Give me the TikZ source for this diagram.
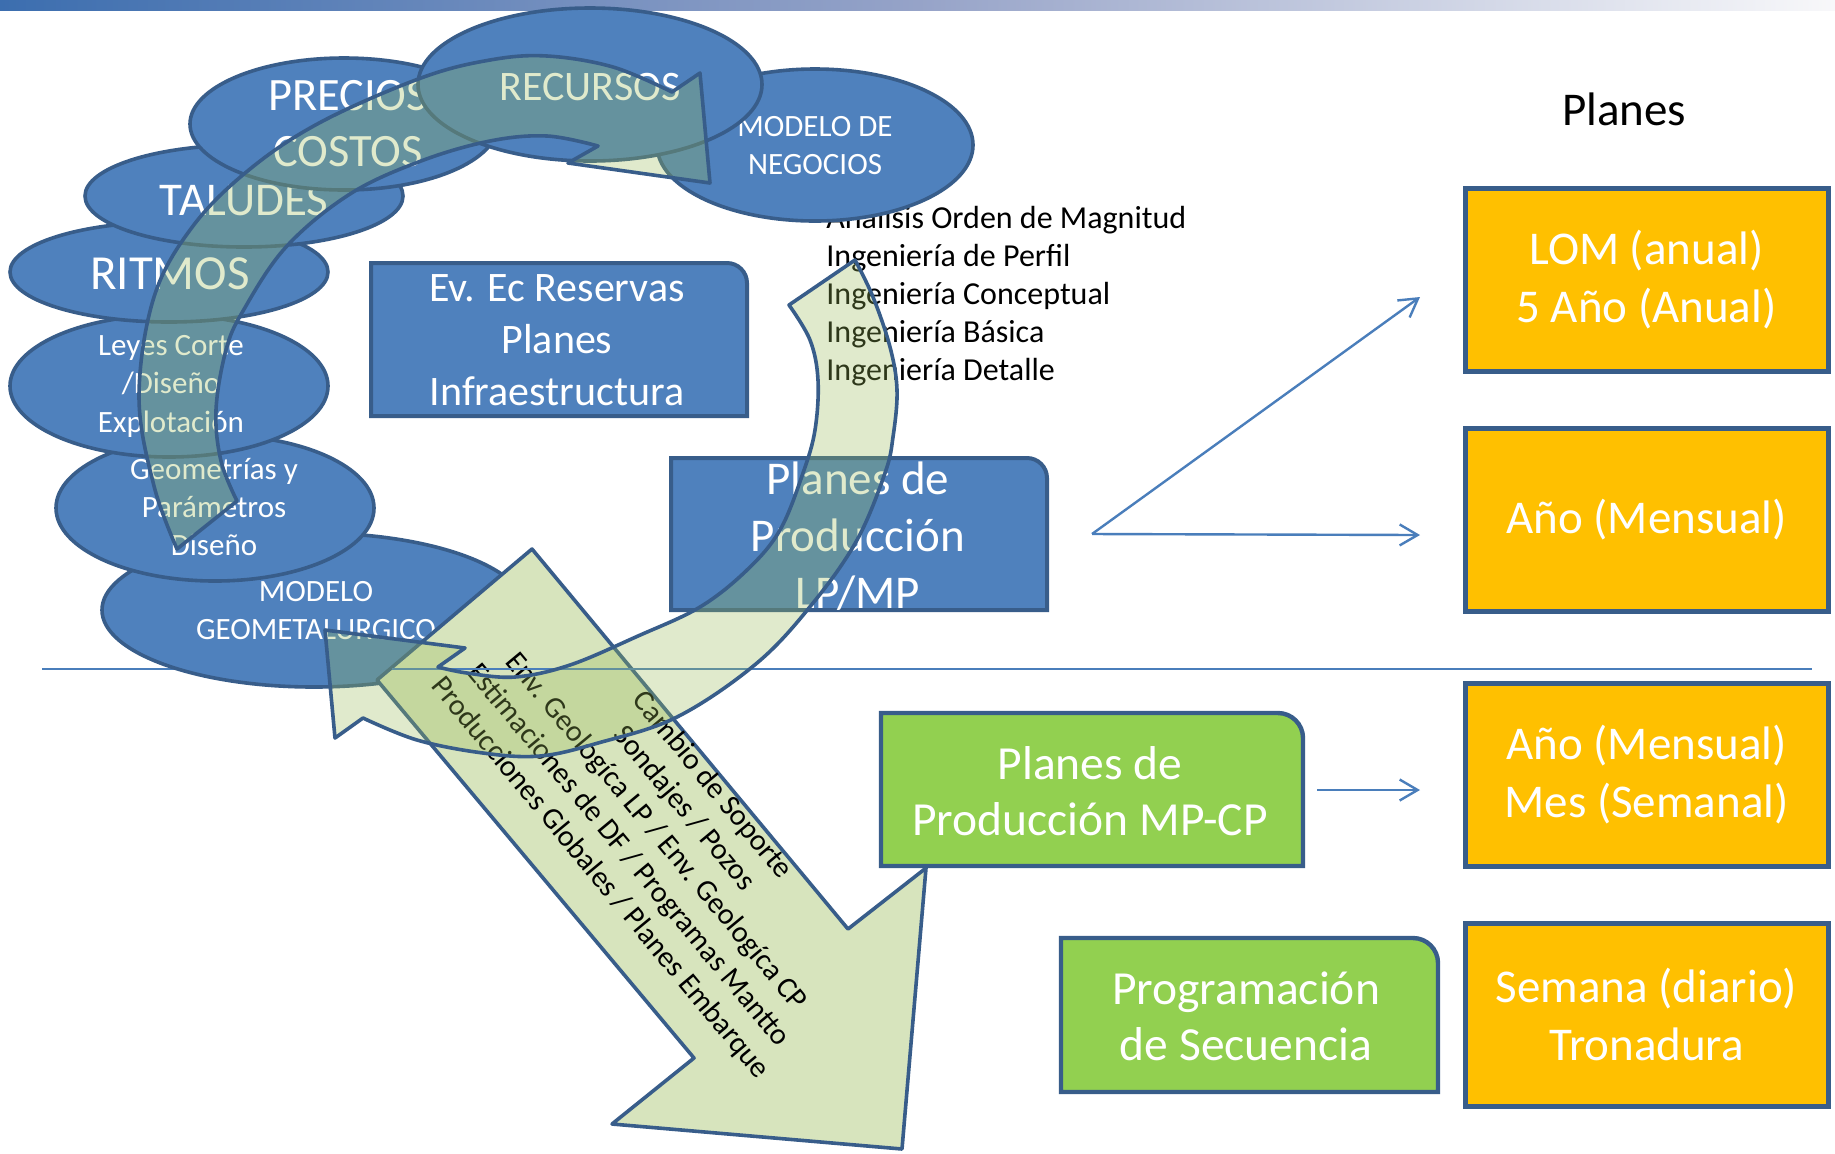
\documentclass[tikz,border=0pt]{standalone}
\usepackage{fontspec}
\setmainfont{Carlito}
\usetikzlibrary{shapes.geometric,arrows.meta}
\newcommand{\fsz}[2]{\fontsize{#1}{#2}\selectfont}
\newcommand{\onerbox}[6]{\draw[#6] (#1,#4) -- (#1,#2) -- ({#3-#5},#2) .. controls ({#3-0.45*#5},#2) and (#3,{#2+0.45*#5}) .. (#3,{#2+#5}) -- (#3,#4) -- cycle;}
\definecolor{bfill}{HTML}{4F81BD}
\definecolor{bdark}{HTML}{385D8A}
\definecolor{orng}{HTML}{FFC000}
\definecolor{gbox}{HTML}{92D050}
\definecolor{darrow}{HTML}{D7E4BD}
\definecolor{arcg}{HTML}{9BBB59}
\definecolor{lineblue}{HTML}{4A7EBB}
\definecolor{topL}{RGB}{60,110,175}
\definecolor{topM}{RGB}{150,163,200}
\definecolor{topR}{RGB}{248,248,250}
\begin{document}
\begin{tikzpicture}[x=0.5pt,y=-0.5pt,
  ell/.style={ellipse, draw=bdark, fill=bfill, line width=1.8pt, inner sep=0pt},
  etxt/.style={text=white, align=center, inner sep=0pt},
  bluebox/.style={draw=bdark, fill=bfill, line width=2pt},
  greenbox/.style={draw=bdark, fill=gbox, line width=2.2pt},
  obox/.style={rectangle, draw=bdark, fill=orng, line width=2.5pt, minimum width=181.5pt, minimum height=91.5pt, inner sep=0pt, text=white, align=center, font=\fsz{23.5}{29}},
  btxt/.style={text=white, align=center, inner sep=0pt},
  diag/.style={draw=bdark, fill=darrow, line width=1.8pt, line join=round},
  arcst/.style={fill=arcg, fill opacity=0.3, draw=bdark, line width=1.8pt, line join=round},
  conn/.style={draw=lineblue, line width=1.2pt, -{Straight Barb[length=9pt,width=10.5pt]}},
  hline/.style={draw=lineblue, line width=1pt}]
\useasboundingbox (0,0) rectangle (1835,1153);
\fill[white] (0,0) rectangle (1835,1153);
\shade[left color=topL, right color=topR, middle color=topM] (0,0) rectangle (1835,10);
% separator line
\coordinate (hlA) at (42,669);
\coordinate (hlB) at (1812,669);
\coordinate (hlC) at (392,669);
\draw[hline] (hlA) -- (hlB);
% list of studies
\node[anchor=west, align=left, inner sep=0pt, font=\fsz{16}{19}] (ing) at (826,296)
  {Analisis Orden de Magnitud\\Ingeniería de Perfil\\Ingeniería Conceptual\\Ingeniería Básica\\Ingeniería Detalle};
% ellipses
\node[ell, minimum width=212pt, minimum height=77pt] (geomet) at (314,610) {};
\node[etxt, font=\fsz{15.5}{19}] (geomett) at (316,611) {MODELO\\GEOMETALURGICO};
\node[ell, minimum width=159pt, minimum height=73pt] (geom) at (215,508) {};
\node[etxt, font=\fsz{15.5}{19}] (geomt) at (214,507) {Geometrías y\\Parámetros\\Diseño};
\node[ell, minimum width=159pt, minimum height=71pt] (leyes) at (169,386) {};
\node[etxt, font=\fsz{15.5}{19.25}] (leyest) at (171,386) {Leyes Corte\\/Diseño\\Explotación};
\node[ell, minimum width=159pt, minimum height=50pt] (ritmos) at (169,272) {};
\node[etxt, font=\fsz{24.5}{29}] (ritmost) at (170,274) {RITMOS};
\node[ell, minimum width=159pt, minimum height=51pt] (taludes) at (244,196) {};
\node[etxt, font=\fsz{23.5}{28}] (taludest) at (244,200) {TALUDES};
\node[ell, minimum width=154pt, minimum height=66pt] (precios) at (344,124) {};
\node[etxt, font=\fsz{23.2}{28}] (preciost) at (348,124) {PRECIOS\\COSTOS};
\node[ell, minimum width=158pt, minimum height=76pt] (negocios) at (815,145) {};
\node[etxt, font=\fsz{15.5}{19}] (negociost) at (815,146) {MODELO DE\\NEGOCIOS};
\node[ell, minimum width=172pt, minimum height=76.5pt] (recursos) at (590,84.5) {};
\node[etxt, font=\fsz{21}{26}] (recursost) at (590,87) {RECURSOS};
% blue boxes
\onerbox{371}{263}{747}{416}{20}{bluebox}
\node[btxt, font=\fsz{21}{26}] (ev) at (557,340) {Ev. Ec Reservas\\Planes\\Infraestructura};
\onerbox{671}{458}{1047}{610}{20}{bluebox}
\node[btxt, font=\fsz{23.5}{28.5}] (lpmp) at (858,536) {Planes de\\Producción\\LP/MP};
% green boxes
\onerbox{881}{713}{1303}{866}{25}{greenbox}
\node[btxt, font=\fsz{23.75}{28}] (mpcp) at (1090,791) {Planes de\\Producción MP-CP};
\onerbox{1061}{938}{1438}{1092}{25}{greenbox}
\node[btxt, font=\fsz{23.75}{28}] (prog) at (1246,1016) {Programación\\de Secuencia};
% orange boxes
\node[anchor=center, inner sep=0pt, font=\fsz{23.5}{29}] (planes) at (1624,109) {Planes};
\node[obox] (lom) at (1646.5,279.5) {LOM (anual)\\5 Año (Anual)};
\node[obox] (anio) at (1646.5,519.5) {Año (Mensual)};
\node[obox] (mes) at (1646.5,774.5) {Año (Mensual)\\Mes (Semanal)};
\node[obox] (sem) at (1646.5,1014.5) {Semana (diario)\\Tronadura};
% diagonal arrow
\draw[diag] (532,549) -- (848,929) -- (926,868) -- (902,1149) -- (612,1124) -- (694,1058) -- (377,680) -- cycle;
\node[rotate=-50.3, align=center, inner sep=0pt, font=\fsz{15}{18.2}] (diagt) at (656,832)
  {Cambio de Soporte\\Sondajes / Pozos\\Env. Geologíca LP / Env. Geologíca CP\\Estimaciones de DF / Programas Mantto\\Producciones Globales / Planes Embarque};
\draw[hline] (hlC) -- (hlB);
% lower circular arrow
\path[arcst] plot[smooth,tension=0.6] coordinates {(855,260) (873,297) (890,347) (897,390) (893,437) (885,473) (857,540) (813,603) (757,663) (677,717) (598,743) (540,756) (483,753) (417,740) (363,718)}
  -- (335,738) -- (325,630) -- (465,648) -- (438,667)
  -- plot[smooth,tension=0.6] coordinates {(438,667) (467,673) (515,677) (570,665) (638,636) (700,607) (747,570) (780,530) (803,473) (815,430) (818,380) (810,340) (789,305)}
  -- cycle;
% upper circular arrow
\path[arcst] plot[smooth,tension=0.6] coordinates {(177,549) (154,486) (139,397) (154,297) (193,226) (250,169) (321,122) (421,78) (490,60) (547,56) (613,67) (672,92)}
  -- (700,73) -- (710,183) -- (568,163) -- (598,146)
  -- plot[smooth,tension=0.6] coordinates {(598,146) (547,136) (490,141) (421,161) (350,194) (286,247) (243,311) (226,350) (216,410) (221,461) (237,501)}
  -- cycle;
% connectors
\coordinate (c0) at (1092,534);
\coordinate (c1) at (1420,297);
\coordinate (c2) at (1420,535);
\coordinate (c3) at (1317,790);
\coordinate (c4) at (1420,790);
\draw[conn] (c0) -- (c1);
\draw[conn] (c0) -- (c2);
\draw[conn] (c3) -- (c4);
\end{tikzpicture}
\end{document}
